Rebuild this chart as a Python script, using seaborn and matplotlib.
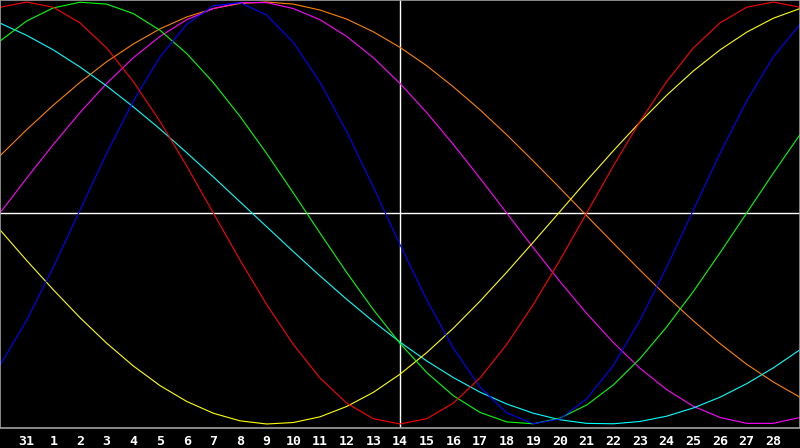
import numpy as np
import pandas as pd
import matplotlib
matplotlib.use("Agg")
import matplotlib.pyplot as plt
import seaborn as sns

# days shown along the bottom (first and last are off-label edges)
days = [30, 31] + list(range(1, 30))

red = [0.975, 1.0, 0.975, 0.901, 0.782, 0.623, 0.434, 0.223, 0.0, -0.223, -0.434,
       -0.623, -0.782, -0.901, -0.975, -1.0, -0.975, -0.901, -0.782, -0.623, -0.434,
       -0.223, 0.0, 0.223, 0.434, 0.623, 0.782, 0.901, 0.975, 1.0, 0.975]
green = [0.815, 0.910, 0.972, 0.999, 0.990, 0.945, 0.866, 0.756, 0.618, 0.458, 0.282,
         0.095, -0.095, -0.282, -0.458, -0.618, -0.756, -0.866, -0.945, -0.990, -0.999,
         -0.972, -0.910, -0.815, -0.690, -0.540, -0.372, -0.189, 0.0, 0.189, 0.372]
blue = [-0.722, -0.508, -0.257, 0.014, 0.283, 0.531, 0.740, 0.894, 0.982, 0.997, 0.938,
        0.809, 0.620, 0.386, 0.123, -0.150, -0.411, -0.641, -0.825, -0.947, -0.999,
        -0.976, -0.881, -0.722, -0.508, -0.257, 0.014, 0.283, 0.531, 0.740, 0.894]
yellow = [-0.080, -0.225, -0.364, -0.496, -0.617, -0.725, -0.818, -0.893, -0.949, -0.985,
          -1.0, -0.993, -0.966, -0.917, -0.850, -0.764, -0.662, -0.546, -0.418, -0.281,
          -0.138, 0.007, 0.153, 0.295, 0.431, 0.558, 0.673, 0.773, 0.857, 0.923, 0.969]
cyan = [0.900, 0.842, 0.773, 0.692, 0.602, 0.503, 0.398, 0.286, 0.171, 0.053, -0.065,
        -0.183, -0.298, -0.409, -0.514, -0.612, -0.701, -0.780, -0.849, -0.905, -0.949,
        -0.980, -0.997, -0.999, -0.988, -0.963, -0.924, -0.873, -0.809, -0.734, -0.648]
magenta = [0.0, 0.165, 0.325, 0.476, 0.614, 0.736, 0.837, 0.916, 0.969, 0.997, 0.997,
           0.969, 0.916, 0.837, 0.736, 0.614, 0.476, 0.325, 0.165, 0.0, -0.165,
           -0.325, -0.476, -0.614, -0.736, -0.837, -0.916, -0.969, -0.997, -0.997, -0.969]
orange = [0.271, 0.395, 0.511, 0.619, 0.717, 0.801, 0.873, 0.929, 0.969, 0.993, 1.0,
          0.990, 0.962, 0.919, 0.859, 0.785, 0.698, 0.598, 0.489, 0.371, 0.246,
          0.118, -0.013, -0.143, -0.271, -0.395, -0.511, -0.619, -0.717, -0.801, -0.873]

series = {"orange": orange, "magenta": magenta, "cyan": cyan, "yellow": yellow,
          "green": green, "blue": blue, "red": red}
colors = {"red": "#ff0000", "green": "#00ff00", "blue": "#0000ff", "yellow": "#ffff00",
          "cyan": "#00ffff", "magenta": "#ff00ff", "orange": "#ff8000"}

pos = np.arange(len(days))
df = pd.concat([pd.DataFrame({"pos": pos, "value": v, "curve": k}) for k, v in series.items()])

sns.set_style("dark")
fig = plt.figure(figsize=(8, 4.48), dpi=100, facecolor="black")
ax = fig.add_axes([0, 20 / 448, 1, 428 / 448])
ax.set_facecolor("black")

# crosshair: today and the zero line
ax.axvline(days.index(14), color="white", lw=1.0, zorder=1)
ax.axhline(0, color="white", lw=1.0, zorder=1)

sns.lineplot(data=df, x="pos", y="value", hue="curve", palette=colors,
             linewidth=0.8, legend=False, sort=False, ax=ax, zorder=2)

ax.set_xlim(0, len(days) - 1)
ax.set_ylim(-1.019, 1.0095)
ax.set_xticks(pos[1:-1])
ax.set_xticklabels([str(d) for d in days[1:-1]], color="white",
                   fontfamily="DejaVu Sans Mono", fontweight="bold", fontsize=9.5)
ax.tick_params(axis="x", direction="in", length=4, width=1, color="white", pad=5)
ax.set_yticks([])
ax.set_xlabel("")
ax.set_ylabel("")
ax.grid(False)
for s in ax.spines.values():
    s.set_visible(True)
    s.set_color("#a0a0a0")
    s.set_linewidth(1.2)

plt.savefig("out.png", dpi=100, facecolor="black")
